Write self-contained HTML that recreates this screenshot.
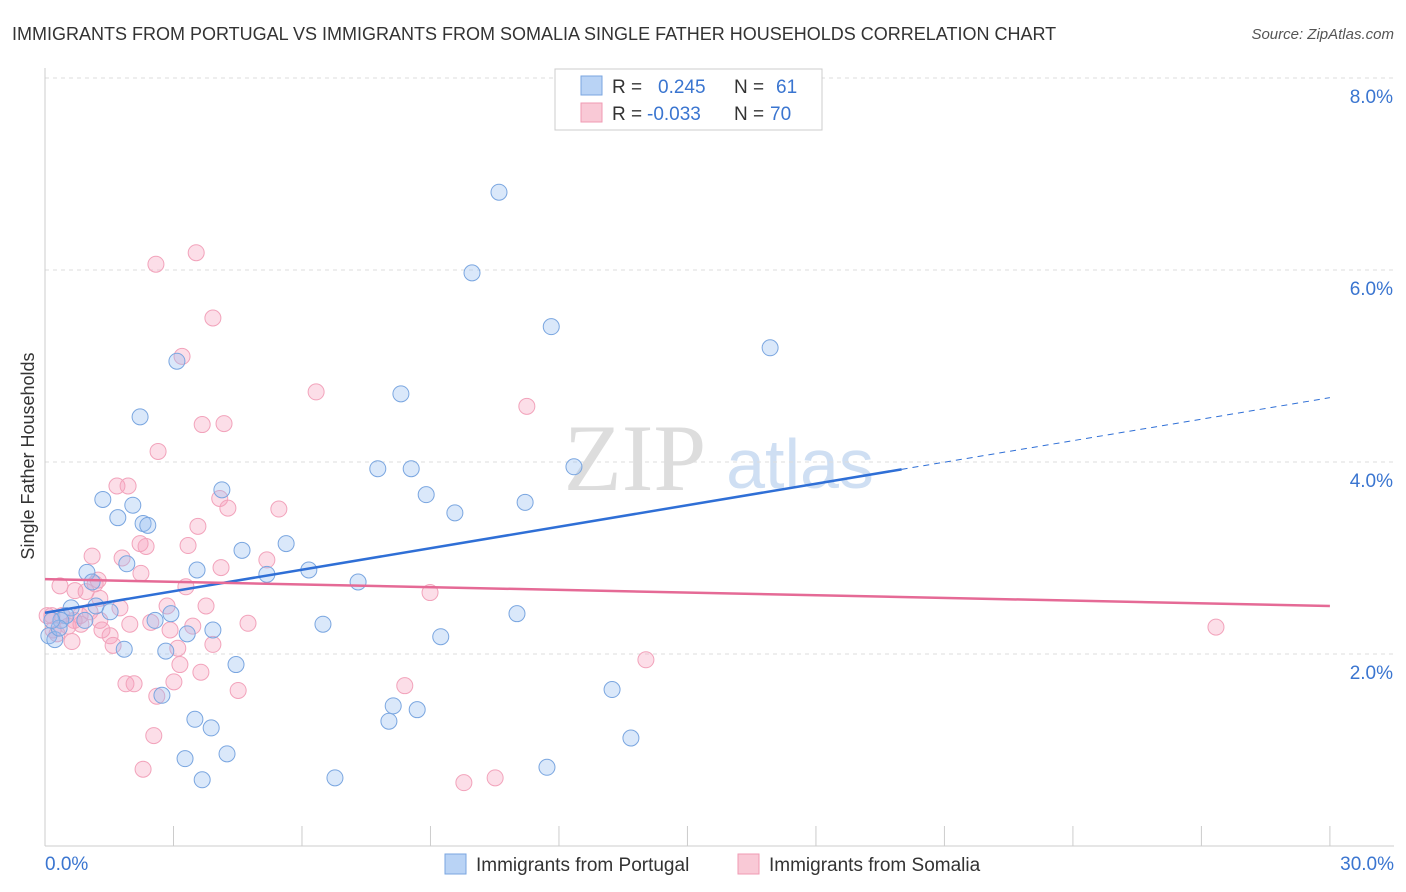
<!DOCTYPE html>
<html><head><meta charset="utf-8">
<style>
body{margin:0;background:#fff;font-family:"Liberation Sans",sans-serif;}
#wrap{position:relative;width:1406px;height:892px;overflow:hidden}
</style></head>
<body>
<div id="wrap">
<svg id="svg" width="1406" height="892" xmlns="http://www.w3.org/2000/svg">
<text x="12" y="40" font-size="18" fill="#333">IMMIGRANTS FROM PORTUGAL VS IMMIGRANTS FROM SOMALIA SINGLE FATHER HOUSEHOLDS CORRELATION CHART</text>
<text x="1394" y="39" font-size="15" fill="#555" font-style="italic" text-anchor="end">Source: ZipAtlas.com</text>
<text x="635" y="490" font-size="95" fill="#ddd" font-family="Liberation Serif" text-anchor="middle">ZIP</text>
<text x="800" y="488" font-size="70" fill="#cfdff3" text-anchor="middle">atlas</text>
<text transform="translate(34,456) rotate(-90)" font-size="18" fill="#333" text-anchor="middle">Single Father Households</text>
<g id="grid"></g><g id="pts"></g><g id="lines"></g>
<g>
<rect x="555" y="69" width="267" height="61" fill="#fff" stroke="#ccc"/>
<rect x="581" y="76" width="21" height="19" fill="#b9d3f5" stroke="#7aa6e0"/>
<rect x="581" y="103" width="21" height="19" fill="#f9c9d6" stroke="#f09ab3"/>
<text x="612" y="93" font-size="19" fill="#333">R =</text><text x="658" y="93" font-size="19" fill="#3a75d0">0.245</text>
<text x="734" y="93" font-size="19" fill="#333">N =</text><text x="776" y="93" font-size="19" fill="#3a75d0">61</text>
<text x="612" y="120" font-size="19" fill="#333">R =</text><text x="647" y="120" font-size="19" fill="#3a75d0">-0.033</text>
<text x="734" y="120" font-size="19" fill="#333">N =</text><text x="770" y="120" font-size="19" fill="#3a75d0">70</text>
</g>
<g>
<rect x="445" y="854" width="21" height="20" fill="#b9d3f5" stroke="#7aa6e0"/>
<text x="476" y="871" font-size="19" fill="#333">Immigrants from Portugal</text>
<rect x="738" y="854" width="21" height="20" fill="#f9c9d6" stroke="#f09ab3"/>
<text x="769" y="871" font-size="19" fill="#333">Immigrants from Somalia</text>
</g>
</svg>
</div>
<script>
const yTicks=[2,4,6,8];
const yTickLabels=["2.0%","4.0%","6.0%","8.0%"];
const xTickLabels=["0.0%","30.0%"];
const blueX=[10.6,9.97,11.82,16.93,3.08,8.31,2.22,7.77,8.55,12.35,4.13,1.35,2.05,8.9,11.21,9.57,1.70,2.29,2.40,4.6,5.63,1.91,3.55,5.18,6.16,0.98,1.10,7.31,0.61,1.19,1.52,2.94,2.57,11.02,0.49,0.37,6.49,3.92,3.32,9.24,0.09,0.23,1.85,2.82,4.46,2.73,13.24,8.13,8.69,3.50,8.03,3.88,13.68,4.25,3.27,11.72,6.77,3.67,0.33,0.93,0.16];
const blueY=[6.81,5.97,5.41,5.19,5.05,4.71,4.47,3.93,3.93,3.95,3.71,3.61,3.55,3.66,3.58,3.47,3.42,3.36,3.34,3.08,3.15,2.94,2.875,2.83,2.875,2.85,2.75,2.75,2.48,2.5,2.44,2.42,2.35,2.42,2.4,2.35,2.31,2.25,2.21,2.18,2.19,2.15,2.05,2.03,1.89,1.57,1.63,1.46,1.42,1.32,1.3,1.23,1.125,0.96,0.91,0.82,0.71,0.69,2.27,2.35,2.35];
const pinkX=[3.53,2.59,3.92,3.2,6.33,11.25,3.67,4.18,2.64,1.68,1.94,4.08,4.27,5.46,3.57,2.22,2.36,3.34,1.10,1.80,5.18,2.24,4.11,1.24,1.17,0.35,0.70,0.96,1.28,1.75,2.85,3.76,8.99,3.29,0.05,0.16,0.40,0.82,0.19,0.54,0.28,0.84,1.98,2.47,3.45,4.74,2.92,1.52,1.59,0.63,3.10,3.92,27.34,14.03,3.15,3.64,4.51,1.89,2.08,3.01,8.4,2.61,2.54,2.29,9.78,10.51,1.28,0.68,1.05,1.33];
const pinkY=[6.18,6.06,5.5,5.1,4.73,4.58,4.39,4.4,4.11,3.75,3.75,3.62,3.52,3.51,3.33,3.15,3.12,3.13,3.02,3.0,2.98,2.84,2.9,2.77,2.73,2.71,2.66,2.65,2.58,2.48,2.5,2.5,2.64,2.7,2.4,2.4,2.4,2.4,2.25,2.29,2.21,2.31,2.31,2.33,2.29,2.32,2.25,2.19,2.09,2.13,2.06,2.1,2.28,1.94,1.89,1.81,1.62,1.69,1.69,1.71,1.67,1.56,1.15,0.8,0.66,0.71,2.35,2.35,2.44,2.25];
const blueLine=[2.43,4.67], blueSolidEnd=20;
const pinkLine=[2.78,2.5];
const X=v=>45+v*42.83, Y=v=>846-v*96;
const NS="http://www.w3.org/2000/svg";
function mk(t,a,p){const e=document.createElementNS(NS,t);for(const k in a)e.setAttribute(k,a[k]);p.appendChild(e);return e;}
const grid=document.getElementById('grid');
yTicks.forEach((t,i)=>{
 const l=mk('line',{x1:45,x2:1394,y1:Y(t),y2:Y(t),stroke:'#ddd','stroke-dasharray':'4,4'},grid);
 
 
 const tx=mk('text',{x:1393,y:Y(t)+25,'font-size':19,fill:'#3a75d0','text-anchor':'end'},grid);
 tx.textContent=yTickLabels[i];
 
 
});
mk('line',{x1:45,x2:45,y1:68,y2:846,stroke:'#ccc'},grid);
mk('line',{x1:45,x2:1394,y1:846,y2:846,stroke:'#ccc'},grid);
for(let i=0;i<=10;i++){mk('line',{x1:X(i*3),x2:X(i*3),y1:826,y2:846,stroke:'#ccc'},grid);}
[[0,'start',45],[1,'end',1394]].forEach(([i,a,x])=>{
 const tx=mk('text',{x:x,y:870,'font-size':19,fill:'#3a75d0','text-anchor':a},grid);
 tx.textContent=xTickLabels[i];
 
 
});
const pts=document.getElementById('pts');
pinkX.forEach((x,i)=>{const c=mk('circle',{cx:X(x),cy:Y(pinkY[i]),r:8,fill:'rgba(246,160,188,0.35)',stroke:'#f2a3bb','stroke-width':1},pts);
 
 });
blueX.forEach((x,i)=>{const c=mk('circle',{cx:X(x),cy:Y(blueY[i]),r:8,fill:'rgba(150,190,240,0.35)',stroke:'#7aa6e0','stroke-width':1},pts);
 
 });
const lines=document.getElementById('lines');
const bl=x=>blueLine[0]+(blueLine[1]-blueLine[0])*x/30;
let l1=mk('line',{x1:X(0),y1:Y(bl(0)),x2:X(blueSolidEnd),y2:Y(bl(blueSolidEnd)),stroke:'#2f6fd6','stroke-width':2.5},lines);


let l2=mk('line',{x1:X(blueSolidEnd),y1:Y(bl(blueSolidEnd)),x2:X(30),y2:Y(bl(30)),stroke:'#2f6fd6','stroke-width':1,'stroke-dasharray':'6,5'},lines);


let l3=mk('line',{x1:X(0),y1:Y(pinkLine[0]),x2:X(30),y2:Y(pinkLine[1]),stroke:'#e56a96','stroke-width':2.5},lines);


</script>
</body></html>
